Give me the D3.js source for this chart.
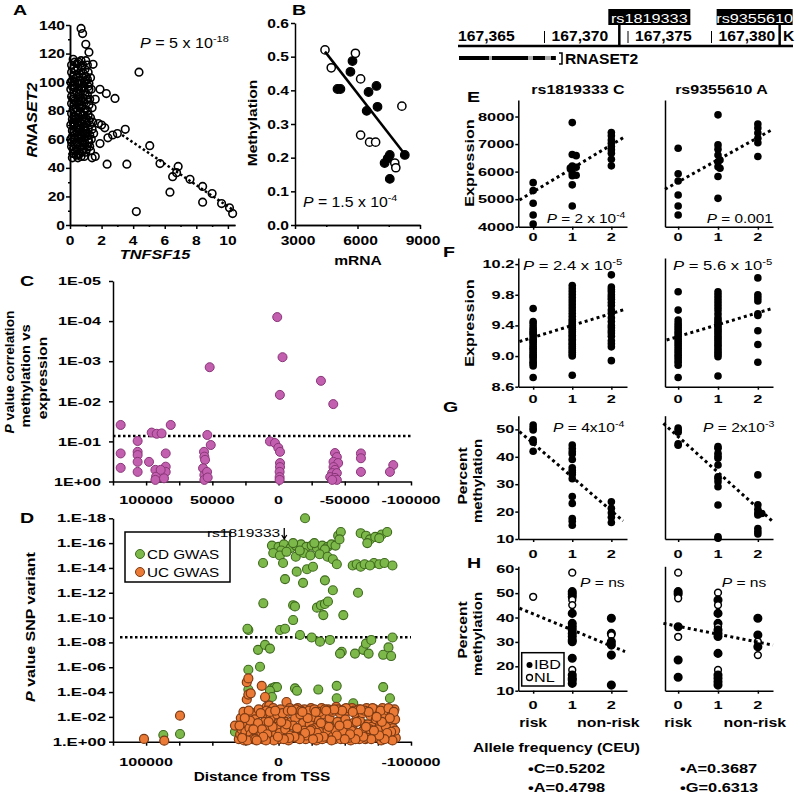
<!DOCTYPE html>
<html><head><meta charset="utf-8">
<script src="https://cdn.jsdelivr.net/npm/d3@7"></script>
<style>body{margin:0;background:#fff}</style>
</head><body>
<script>
// ================= DATA =================
// Panel A: [TNFSF15, RNASET2]
const aPoints = [[0.1,112],[0.2,104],[0.15,97],[0.1,90],[0.25,84],[0.1,78],[0.2,72],[0.15,66],[0.3,60],[0.1,55],[0.2,50],[0.35,108],[0.3,100],[0.4,93],[0.3,87],[0.45,80],[0.35,74],[0.4,68],[0.3,63],[0.45,57],[0.35,52],[0.5,47],
[0.55,114],[0.6,106],[0.5,99],[0.6,92],[0.55,86],[0.65,79],[0.5,73],[0.6,67],[0.55,61],[0.65,55],[0.5,49],
[0.75,111],[0.8,103],[0.7,96],[0.8,89],[0.75,83],[0.85,77],[0.7,71],[0.8,65],[0.75,59],[0.85,53],[0.7,48],
[0.95,109],[1.0,101],[0.9,94],[1.05,88],[0.95,81],[1.0,75],[0.9,69],[1.05,62],[0.95,57],[1.0,51],
[1.15,107],[1.2,99],[1.1,91],[1.2,84],[1.15,77],[1.25,70],[1.1,64],[1.2,58],[1.3,52],
[0.2,116],[0.45,113],[0.7,115],[0.15,101],[0.25,93],[0.4,86],[0.2,81],[0.5,77],[0.25,69],[0.15,62],[0.4,58],[0.2,53],[0.6,50],[0.9,48],[1.1,55],[1.35,60],[1.3,75],[1.4,82],[1.35,95],[1.3,103],[1.1,112],[0.65,101],[0.85,97],[0.6,84],[0.9,86],[0.7,63],[1.05,71],[0.45,65],[0.3,71],[0.1,85],[0.1,107],[0.55,95],[0.8,58],[1.0,66],[0.35,79],[0.65,72],[1.2,95],[1.25,88],[0.85,106],[0.3,114],[1.4,67],[1.45,72],[1.6,88],[1.5,64],[0.4,49],[0.15,47],
[0.05,95],[0.05,70],[0.05,60],[0.05,100],[0.25,110],[0.5,110],[0.8,112],[1.0,115],[0.3,96],[0.5,89],[0.7,87],[0.95,91],[1.15,97],[0.2,88],[0.4,82],[0.65,82],[0.9,79],[1.1,80],[0.3,76],[0.55,70],[0.75,74],[0.95,73],[1.2,73],[0.15,74],[0.45,72],[0.6,64],[0.85,68],[1.15,67],[0.25,65],[0.5,62],[0.75,61],[0.95,64],[1.25,63],[0.1,58],[0.35,56],[0.6,58],[0.85,56],[1.15,60],[0.25,50],[0.45,53],[0.75,51],[1.05,53],[1.25,55],[0.55,104],[0.75,99],[1.0,104],[0.4,103],[0.2,98],[0.9,100],[1.1,102],
[0.7,137.6],[0.8,134],[1.0,126.5],[1.2,121],[1.46,112.5],[4.37,107],[1.9,95],[2.3,92],[2.85,88.6],[1.8,71],[2.0,70],[2.2,68],[3.5,67],[3.0,64],[2.7,63],[2.4,61],[1.9,57],[5.05,55.5],[2.35,42.6],[3.6,42.6],[5.7,43],[6.85,41],[6.75,36.6],[6.5,33.8],[7.6,32],[6.33,23],[8.4,27],[8.4,16],[4.2,9.4],[9.0,22],[9.6,15],[10.3,8],[10.1,12],[1.6,48],[1.4,47]];
const aFit = [[3.3,63],[10.4,10]];
const aYTicks = [0,20,40,60,80,100,120,140];
const aYMinor = [10,30,50,70,90,110,130];
const aXTicks = [0,2,4,6,8,10];
const aXMinor = [1,3,5,7,9];

// Panel B: [mRNA, methylation]
const bOpen = [[4440,0.52],[4740,0.467],[5900,0.51],[6150,0.434],[8130,0.353],[6150,0.267],[6580,0.246],[6870,0.246],[7790,0.184],[7840,0.17]];
const bFilled = [[5760,0.487],[5660,0.455],[5040,0.404],[5180,0.404],[6530,0.395],[6910,0.413],[6440,0.339],[6960,0.351],[7550,0.208],[7450,0.198],[7300,0.184],[8270,0.208],[7550,0.137]];
const bFit = [[4440,0.515],[8270,0.21]];
const bYTicks = [0,0.1,0.2,0.3,0.4,0.5,0.6];
const bXTicks = [3000,6000,9000];
const bXMinor = [4500,7500];

// Panel C: [distance from TSS, -log10 P]
const cNegLog10P = [[1000,4.10],[-3000,3.10],[52000,2.85],[-32000,2.51],[-1000,2.16],[-41300,1.93],
[119200,1.41],[81400,1.41],[95800,1.22],[92000,1.19],[88300,1.20],[53800,1.16],[51200,0.91],[6500,1.0],[2700,0.96],[200,0.84],[-1100,0.74],[106400,1.01],[119200,0.70],[106400,0.74],[106400,0.66],[106400,0.49],[106400,0.24],[119200,0.34],[97800,0.49],[93000,0.29],[92500,0.12],[93000,0.04],[85200,0.70],[85200,0.37],[85200,0.24],[86500,0.08],[89000,0.29],[56300,0.74],[56000,0.62],[55500,0.54],[57000,0.33],[56000,0.16],[56000,0.04],[54000,0.24],[53500,0.10],
[-1100,0.46],[-1100,0.36],[-800,0.24],[-800,0.11],[-800,0.04],
[-42600,0.71],[-44000,0.61],[-41500,0.49],[-45000,0.46],[-41500,0.36],[-42600,0.29],[-40500,0.21],[-44000,0.21],[-39000,0.11],[-42600,0.09],[-44000,0.04],[-40500,0.04],
[-62200,0.70],[-62200,0.58],[-62200,0.24],[-86600,0.41],[-84100,0.24]];
const cThresholdP = 0.073;
const cYTicks = [1,1e-1,1e-2,1e-3,1e-4,1e-5];
const cXTicks = [125000,100000,75000,50000,25000,0,-25000,-50000,-75000,-100000];
const cXLabels = [100000,50000,0,-50000,-100000];

// Panel D: [distance from TSS, -log10 P]
const cdNegLog10P = [[-20000,18.0],
[5000,15.8],[0,15.7],[-4000,15.9],[-9000,15.6],[-13000,15.8],[-17000,15.9],[-21000,15.7],[-25000,15.8],[-29000,15.6],[-33000,15.8],[-37000,15.7],[-40000,15.9],[-43000,15.8],[-11000,16.0],[-27000,16.0],[-35000,15.5],[-2000,15.4],
[-45000,16.6],[-47000,16.9],[-46000,16.3],[-62000,16.8],[-66000,16.6],[-69000,16.3],[-73000,16.5],[-78000,16.7],[-82000,16.9],[-67000,16.0],[-76000,16.4],
[4000,15.2],[-1000,15.0],[-6000,15.3],[-13000,14.9],[-19000,15.2],[-24000,15.0],[-31000,15.1],[-37000,14.9],[-41000,14.7],[-16000,15.4],
[11700,14.4],[-3400,14.4],[-44000,14.3],[-56000,14.2],[-59000,14.3],[-62000,14.1],[-65000,14.3],[-72000,14.4],[-76000,14.3],[-80000,14.4],[-86000,14.2],[-69000,14.2],
[-13700,13.7],[-21500,13.9],[-26000,14.1],[-4900,13.1],[-18500,12.8],[-35000,13.0],[-41000,12.2],[-60000,12.0],
[11500,11.15],[-11000,11.0],[-12400,10.9],[-11000,9.8],[-29000,10.8],[-32000,11.0],[-35000,11.1],[-37300,11.3],[-33800,10.2],[-48900,10.2],
[22800,9.0],[23500,9.1],[-1100,9.0],[-4900,9.1],[-16200,8.6],[-25000,8.4],[-31300,8.06],[-38800,8.2],[-47700,7.25],[-46400,7.1],[-57700,7.1],[-64000,7.4],[-66000,7.9],[-68000,7.1],[-70000,8.2],[-79000,7.0],[-83000,7.6],[-85000,6.9],[-86000,8.4],
[15500,7.4],[10200,7.8],[6500,7.5],[14000,6.04],[22800,5.8],[22800,4.2],[5000,4.3],[2700,4.4],[1200,4.4],[6500,4.1],[5000,3.6],[-12400,4.3],[-13900,4.1],[-30000,4.2],[-43900,4.5],[-43900,3.5],[-56400,3.1],[-79000,4.4],[-84100,3.5],
[21600,2.0],[5000,1.5],[2700,1.3],[-86600,1.75],[-80000,1.9],[-72000,1.6],[-60000,1.8],[87000,0.54],[74400,0.62],[32900,0.8],[28000,0.5],[-5000,0.4],[-40000,1.2],[-50000,0.9],[-65000,1.4],[-85000,0.5]];
const ucNegLog10P = [[101600,0.22],[86300,0.08],[74400,2.1],[32900,1.3],[24000,4.8],[22800,5.1],[24000,3.4],[22800,3.8],[21000,3.9],[12700,4.5],[10200,3.6],[9000,2.8],[7000,2.9],[-6000,3.2],
[30000,0.2],[29000,0.6],[28000,1.0],[27000,0.4],[26000,0.1],[25000,0.8],[24000,1.5],[23000,0.3],[22000,1.1],[21000,0.6],[20000,2.3],[19500,0.2],
[18000,1.8],[17000,0.9],[16000,0.4],[15000,2.6],[14000,1.3],[13000,0.7],[12000,0.2],[11000,2.2],[10500,1.6],[10000,0.9],
[9000,2.5],[8000,1.2],[7000,0.5],[6000,1.9],[5000,0.3],[4000,2.7],[3000,1.0],[2000,0.6],[1000,2.2],[0,1.5],[-500,0.2],
[-1500,2.6],[-2500,0.9],[-3500,1.8],[-4500,0.4],[-5500,2.3],[-6500,1.2],[-7500,0.1],[-8500,2.7],[-9500,1.6],
[-10500,0.5],[-11500,2.4],[-12500,1.9],[-13500,0.3],[-14500,2.7],[-15500,1.0],[-16500,2.2],[-17500,0.6],[-18500,1.5],[-19500,2.6],
[-20500,0.2],[-21500,2.3],[-22500,0.8],[-23500,1.4],[-24500,2.7],[-25500,0.4],[-26500,2.0],[-27500,1.1],[-28500,0.1],[-29500,2.5],
[-30500,1.7],[-31500,0.5],[-32500,2.7],[-33500,0.9],[-34500,2.2],[-35500,1.3],[-36500,0.3],[-37500,2.6],[-38500,1.9],[-39500,0.7],
[-40500,2.4],[-41500,1.1],[-42500,0.2],[-43500,2.8],[-44500,1.6],[-45500,0.6],[-46500,2.3],[-47500,1.0],[-48500,0.3],[-49500,2.6],
[-50500,1.8],[-51500,0.5],[-52500,2.5],[-53500,1.2],[-54500,0.1],[-55500,2.7],[-56500,1.5],[-57500,0.8],[-58500,2.2],[-59500,0.4],
[-60500,2.6],[-61500,1.7],[-62500,0.6],[-63500,2.3],[-64500,1.0],[-65500,0.2],[-66500,2.7],[-67500,1.4],[-68500,0.5],[-69500,2.1],
[-70500,1.2],[-71500,0.3],[-72500,2.6],[-73500,1.8],[-74500,0.7],[-75500,2.4],[-76500,1.3],[-77500,0.1],[-78500,2.7],[-79500,0.9],
[-80500,2.0],[-81500,0.4],[-82500,2.5],[-83500,1.5],[-84500,0.2],[-85500,2.3],[-86500,1.1],[-87000,0.6],[-87500,2.6],[-88000,1.8],[-88500,0.3],[-88000,0.9],
[28500,1.9],[26500,2.4],[23500,0.1],[21500,1.7],[17500,0.2],[15500,1.5],[12500,1.0],[8500,0.6],[6500,2.4],[3500,0.1],[1500,1.2],[-1000,0.7],[-3000,2.3],[-5000,1.0],[-7000,2.5],[-9000,0.5],[-11000,1.3],[-13000,2.6],[-15000,0.3],[-17000,2.5],[-19000,0.9],[-21000,0.5],[-23000,2.5],[-25000,1.0],[-27000,2.6],[-29000,0.7],[-31000,2.4],[-33000,0.2],[-35000,2.6],[-37000,0.9],[-39000,2.5],[-41000,0.4],[-43000,0.9],[-45000,2.6],[-47000,0.2],[-49000,0.8],[-51000,2.7],[-53000,0.3],[-55000,0.9],[-57000,2.5],[-59000,1.6],[-61000,0.2],[-63000,0.8],[-65000,2.5],[-67000,0.3],[-69000,1.0],[-71000,2.7],[-73000,0.4],[-75000,1.0],[-77000,2.5],[-79000,0.3],[-81000,1.2],[-83000,2.7],[-85000,0.8],[-87000,2.4],[-86000,0.1],[-84000,1.9],[-82000,0.7],[-80000,0.2],[-78000,1.6],[-76000,0.5],[-74000,2.0],[-72000,0.9],[-70000,0.2],[-68000,2.4],[-66000,1.2],[-64000,0.4],[-62000,2.6],[-60000,0.7],[-58000,0.2],[-56000,2.4],[-54000,0.6],[-52000,1.4],[-50000,0.2],[-48000,2.5],[-46000,1.3],[-44000,0.5],[-42000,2.6],[-40000,0.1],[-38000,1.2],[-36000,2.5],[-34000,0.4],[-32000,1.5],[-30000,0.3],[-28000,2.4],[-26000,0.2],[-24000,0.9],[-22000,1.9],[-20000,0.7],[-18000,2.4],[-16000,0.2],[-14000,1.1],[-12000,0.4],[-10000,2.5],[-8000,0.3],[-6000,1.4],[-4000,0.2],[-2000,1.6],[500,0.4],[2500,2.5],[4500,1.2],[7500,1.6],[9500,0.1],[11500,0.4],[13500,2.3],[16500,0.1],[19000,1.0],[22500,2.5],[25500,1.9],[27500,0.3],[29500,1.3]];
const dThresholdP = 3.9e-9;
const dYTicks = [1,1e-2,1e-4,1e-6,1e-8,1e-10,1e-12,1e-14,1e-16,1e-18];
const dXLabels = [100000,0,-100000];
const dLegend = ["CD GWAS","UC GWAS"];
const dAnnot = {label:"rs1819333", distance:-4300};

// Gene track
const trackLabels = [167365,167370,167375,167380];
const snps = [{id:"rs1819333", pos:167374.6, boxDx:-11, boxW:82},{id:"rs9355610", pos:167384.2, boxDx:-63, boxW:76}];
const geneName = "RNASET2";
const geneSpan = [167365, 167370.8];

// Panels E-H: genotype (0,1,2) vs value
const columns = ["rs1819333 C","rs9355610 A"];
const eLeft = [[0,5600],[0,5310],[0,4850],[0,4425],[0,4100],[1,7780],[1,6620],[1.1,6580],[1,6200],[1.1,6160],[0.95,6130],[1,5950],[1.1,5870],[1,5850],[1,5520],[1,4750],[2,7420],[2,7300],[2,7150],[2,7030],[2,6910],[2,6790],[2,6670],[2,6450],[2,6210]];
const eRight = [[0,6850],[0,5920],[0,5660],[0,5150],[0,4750],[0,4425],[1,8060],[1,6970],[1,6815],[1,6600],[1.05,6420],[1,6360],[1,6180],[1.05,6120],[1,5820],[1,5030],[2,7730],[2,7580],[2,7400],[2,7210],[2,7050],[2,6550]];
const eLeftFit = [[-0.35,4970],[2.35,7270]];
const eRightFit = [[-0.33,5360],[2.38,7540]];
const fLeft = [[0,9.62],[0,9.45],[0,9.42],[0,9.38],[0,9.35],[0,9.32],[0,9.3],[0,9.28],[0,9.25],[0,9.22],[0,9.2],[0,9.18],[0,9.15],[0,9.12],[0,9.1],[0,9.08],[0,9.05],[0,9.02],[0,9.0],[0,8.98],[0,8.95],[0,8.92],[0,8.9],[0,8.87],[0,8.72],
[1,9.92],[1,9.88],[1,9.84],[1,9.8],[1,9.76],[1,9.72],[1,9.68],[1,9.64],[1,9.6],[1,9.56],[1,9.52],[1,9.48],[1,9.45],[1,9.42],[1,9.4],[1,9.37],[1,9.35],[1,9.32],[1,9.3],[1,9.27],[1,9.25],[1,9.22],[1,9.2],[1,9.17],[1,9.15],[1,9.12],[1,9.1],[1,9.07],[1,9.05],[1,9.02],[1,9.0],[1,8.75],
[2,10.06],[2,9.9],[2,9.87],[2,9.84],[2,9.8],[2,9.77],[2,9.74],[2,9.7],[2,9.66],[2,9.6],[2,9.56],[2,9.5],[2,9.45],[2,9.4],[2,9.37],[2,9.33],[2,9.3],[2,9.26],[2,9.2],[2,9.16],[2,9.12],[2,8.94]];
const fRight = [[0,9.84],[0,9.6],[0,9.47],[0,9.43],[0,9.4],[0,9.37],[0,9.34],[0,9.31],[0,9.28],[0,9.25],[0,9.22],[0,9.19],[0,9.16],[0,9.13],[0,9.1],[0,9.07],[0,9.04],[0,9.01],[0,8.98],[0,8.95],[0,8.92],[0,8.88],[0,8.72],
[1,9.84],[1,9.8],[1,9.76],[1,9.72],[1,9.68],[1,9.64],[1,9.6],[1,9.55],[1,9.5],[1,9.47],[1,9.44],[1,9.41],[1,9.38],[1,9.35],[1,9.32],[1,9.29],[1,9.26],[1,9.23],[1,9.2],[1,9.17],[1,9.14],[1,9.11],[1,9.08],[1,9.05],[1,9.02],[1,8.99],[1,8.74],
[2,10.02],[2,9.8],[2,9.76],[2,9.72],[2,9.55],[2,9.53],[2,9.33],[2,9.15],[2,8.92]];
const fLeftFit = [[-0.35,9.19],[2.35,9.61]];
const fRightFit = [[-0.29,9.21],[2.35,9.62]];
const gLeft = [[0,51.6],[0,50.5],[0,49.8],[0,46.2],[0,45.3],[0,42],[1,44.3],[1,43],[1,41.8],[1,41],[1,39],[1,36],[1,35],[1,34.4],[1,33.5],[1,32],[1,25.5],[1,23],[1,17.5],[1,16.5],[1,15],[2,23.6],[2,21.2],[2,19.6],[2,17.9],[2,16.0]];
const gRight = [[0,50.5],[0,49.8],[0,49],[0,44.7],[0,44.2],[1,43.7],[1,43.1],[1,41.3],[1,40.3],[1,39.5],[1,37],[1,32.7],[1,32.1],[1,30.9],[1,29.1],[1,22.4],[1,10.8],[1,10.3],[2,33.4],[2,22.5],[2,20.8],[2,19.5],[2.1,19.3],[2,18.8],[2,13.8],[2,12.7],[2,11.8]];
const gLeftFit = [[-0.35,49.2],[2.3,16.6]];
const gRightFit = [[-0.37,52.2],[2.38,16.3]];
// H: [genotype, value, isIBD]
const hLeft = [[0,48.5,0],[1,58.4,0],[1,50.6,1],[1,49.6,1],[1,48.5,1],[1,47.2,0],[1,45.1,0],[1,41.7,1],[1,37.6,1],[1,36.2,1],[1,34.9,1],[1,33.5,1],[1,32.2,1],[1,30.8,1],[1,30.1,1],[1,23.3,1],[1,18.5,0],[1,16.4,1],[1,15.1,1],[1,14.4,1],[1,13.0,1],[2,39.7,1],[2,33.5,1],[2,32.8,0],[2,30.1,1],[2,28.7,1],[2,24.6,1],[2,12.3,1]];
const hRight = [[0,58.4,0],[0,50.6,1],[0,49.6,1],[0,47.9,0],[0,36.2,1],[0,32.1,0],[0,22.6,1],[0,15.5,1],[1,50.2,0],[1,47.2,1],[1,45.1,0],[1,41.7,1],[1,37.6,1],[1,36.2,0],[1,34.9,1],[1,33.5,1],[1,32.2,1],[1,25.3,1],[1,18.5,0],[1,16.4,1],[1,15.1,1],[1,13.7,1],[1,12.3,1],[2,39.7,1],[2,32.8,1],[2,30.1,0],[2,28.0,1],[2,24.6,0]];
const hLeftFit = [[-0.35,43.8],[2.35,26.0]];
const hRightFit = [[-0.37,37.6],[2.38,28.7]];
const eYTicks = [4000,5000,6000,7000,8000];
const fYTicks = [8.6,9.0,9.4,9.8,10.2];
const gYTicks = [10,20,30,40,50];
const hYTicks = [10,20,30,40,50,60];
const genoTicks = [0,1,2];
const pTexts = {E:[["P"," = 2 x 10","-4"],["P"," = 0.001",""]], F:[["P"," = 2.4 x 10","-5"],["P"," = 5.6 x 10","-5"]], G:[["P"," = 4x10","-4"],["P"," = 2x10","-3"]], H:[["P"," = ns",""],["P"," = ns",""]]};
const alleleFreq = [["•C=0.5202","•A=0.4798"],["•A=0.3687","•G=0.6313"]];

// ================= DRAWING =================
const svg = d3.select('body').append('svg').attr('width',800).attr('height',799)
  .attr('font-family','Arial, "Liberation Sans", Helvetica, sans-serif');
svg.append('rect').attr('width',800).attr('height',799).attr('fill','#fff');

function txt(x,y,parts,o={}){
  const size=o.size||12;
  const t=svg.append('text').attr('transform',`translate(${x},${y}) rotate(${o.rot||0}) scale(${o.sx||1},1)`)
    .attr('text-anchor',o.anchor||'start').attr('font-size',size)
    .attr('font-weight',o.w||'bold').attr('fill',o.fill||'#000');
  if(typeof parts==='string') parts=[{t:parts}];
  parts.forEach(p=>{
    const s=t.append('tspan').text(p.t);
    if(p.i) s.attr('font-style','italic');
    if(p.sup) s.attr('font-size',size*0.68).attr('dy',-size*0.42);
  });
  return t;
}
function drawAxis(axis,tx,ty,sw=1.5){
  const g=svg.append('g').attr('transform',`translate(${tx},${ty})`).call(axis.tickFormat(()=>'').tickSizeOuter(0));
  g.selectAll('text').remove();
  g.select('.domain').attr('stroke','#000').attr('stroke-width',sw);
  g.selectAll('.tick line').attr('stroke','#000').attr('stroke-width',sw);
  return g;
}
function fitLine(x,y,fit,o={}){
  svg.append('line').attr('x1',x(fit[0][0])).attr('y1',y(fit[0][1])).attr('x2',x(fit[1][0])).attr('y2',y(fit[1][1]))
    .attr('stroke','#000').attr('stroke-width',o.sw||3).attr('stroke-dasharray',o.dash||'3,3.2');
}
function pText(x,y,p,o={}){
  return txt(x,y,[{t:p[0],i:1},{t:p[1]},{t:p[2],sup:1}],{w:'normal',size:o.size||13,sx:o.sx||1.2});
}

// ---------- Panel A ----------
const xA=d3.scaleLinear([0,10.45],[70,235]);
const yA=d3.scaleLinear([0,140],[225,25]);
drawAxis(d3.axisLeft(yA).tickValues(aYTicks).tickSize(4),70,0);
drawAxis(d3.axisLeft(yA).tickValues(aYMinor).tickSize(2),70,0);
drawAxis(d3.axisBottom(xA).tickValues(aXTicks).tickSize(4),0,225);
drawAxis(d3.axisBottom(xA).tickValues(aXMinor).tickSize(2),0,225);
aYTicks.forEach(v=>txt(65,yA(v)+4.6,String(v),{anchor:'end',size:13,sx:1.2}));
aXTicks.forEach(v=>txt(xA(v),245,String(v),{anchor:'middle',size:13,sx:1.2}));
svg.append('g').selectAll('circle').data(aPoints).join('circle')
  .attr('cx',d=>xA(d[0])).attr('cy',d=>yA(d[1])).attr('r',3.8)
  .attr('fill','none').attr('stroke','#000').attr('stroke-width',1.6);
fitLine(xA,yA,aFit,{sw:2.5,dash:'2.5,2.5'});
txt(13,15,'A',{size:14,sx:1.4});
txt(140,48,[{t:'P',i:1},{t:' = 5 x 10'},{t:'-18',sup:1}],{w:'normal',size:14,sx:1.15});
txt(155,259,[{t:'TNFSF15',i:1}],{anchor:'middle',size:13,sx:1.25});
txt(37,120,[{t:'RNASET2',i:1}],{anchor:'middle',size:14,sx:1.15,rot:-90});

// ---------- Panel B ----------
const xB=d3.scaleLinear([3000,9000],[295,420]);
const yB=d3.scaleLinear([0,0.6],[225,23]);
drawAxis(d3.axisLeft(yB).tickValues(bYTicks).tickSize(4),295,0);
drawAxis(d3.axisBottom(xB).tickValues(bXTicks).tickSize(4),0,225);
drawAxis(d3.axisBottom(xB).tickValues(bXMinor).tickSize(2),0,225);
bYTicks.forEach(v=>txt(289,yB(v)+4.6,v.toFixed(1),{anchor:'end',size:13,sx:1.2}));
bXTicks.forEach(v=>txt(xB(v)+3,245,String(v),{anchor:'middle',size:13,sx:1.2}));
svg.append('g').selectAll('circle').data(bFilled).join('circle')
  .attr('cx',d=>xB(d[0])).attr('cy',d=>yB(d[1])).attr('r',4.3).attr('fill','#000').attr('stroke','#000').attr('stroke-width',1.2);
svg.append('g').selectAll('circle').data(bOpen).join('circle')
  .attr('cx',d=>xB(d[0])).attr('cy',d=>yB(d[1])).attr('r',4.1).attr('fill','#fff').attr('stroke','#000').attr('stroke-width',1.5);
svg.append('line').attr('x1',xB(bFit[0][0])).attr('y1',yB(bFit[0][1])).attr('x2',xB(bFit[1][0])).attr('y2',yB(bFit[1][1]))
  .attr('stroke','#000').attr('stroke-width',2.5);
txt(292,15,'B',{size:14,sx:1.4});
txt(303,207,[{t:'P',i:1},{t:' = 1.5 x 10'},{t:'-4',sup:1}],{w:'normal',size:14,sx:1.13});
txt(358,265,'mRNA',{anchor:'middle',size:13,sx:1.2});
txt(257,123,'Methylation',{anchor:'middle',size:13,sx:1.2,rot:-90});

// ---------- Panel C ----------
const xC=d3.scaleLinear([125000,-100000],[113,411]);
const yC=d3.scaleLog([1,1e-5],[481.5,281]);
drawAxis(d3.axisLeft(yC).tickValues(cYTicks).tickSize(4),113,0);
drawAxis(d3.axisBottom(xC).tickValues(cXTicks).tickSize(4),0,481.5);
const fmtC=v=>{const e=Math.round(Math.log10(v));return '1E'+(e<0?'-':'+')+String(Math.abs(e)).padStart(2,'0');};
cYTicks.forEach(v=>txt(101,yC(v)+4.2,fmtC(v),{anchor:'end',size:11.5,sx:1.4}));
cXLabels.forEach(v=>txt(xC(v),504,String(v),{anchor:'middle',size:11.5,sx:1.4}));
svg.append('line').attr('x1',113).attr('x2',411).attr('y1',yC(cThresholdP)).attr('y2',yC(cThresholdP))
  .attr('stroke','#000').attr('stroke-width',2.5).attr('stroke-dasharray','2.5,2.5');
svg.append('g').selectAll('circle').data(cNegLog10P).join('circle')
  .attr('cx',d=>xC(d[0])).attr('cy',d=>yC(Math.pow(10,-d[1]))).attr('r',4.5)
  .attr('fill','#c25fae').attr('stroke','#8a3579').attr('stroke-width',1);
txt(20,286,'C',{size:14,sx:1.4});
txt(14,372,[{t:'P',i:1},{t:' value  correlation'}],{anchor:'middle',size:12.5,sx:1.1,rot:-90});
txt(30,376,'methylation vs',{anchor:'middle',size:12.5,sx:1.18,rot:-90});
txt(47,378,'expression',{anchor:'middle',size:12.5,sx:1.25,rot:-90});

// ---------- Panel D ----------
const xD=d3.scaleLinear([125000,-100000],[113,411]);
const yD=d3.scaleLog([1,1e-18],[741.7,518.3]);
drawAxis(d3.axisLeft(yD).tickValues(dYTicks).tickSize(4),113,0);
drawAxis(d3.axisBottom(xD).tickValues(cXTicks).tickSize(4),0,741.7);
const fmtD=v=>{const e=Math.round(Math.log10(v));return '1.E'+(e<0?'-':'+')+String(Math.abs(e)).padStart(2,'0');};
dYTicks.forEach(v=>txt(106,yD(v)+4,fmtD(v),{anchor:'end',size:11.5,sx:1.45}));
dXLabels.forEach(v=>txt(xD(v),766,String(v),{anchor:'middle',size:11.5,sx:1.4}));
svg.append('line').attr('x1',120).attr('x2',411).attr('y1',yD(dThresholdP)).attr('y2',yD(dThresholdP))
  .attr('stroke','#000').attr('stroke-width',2.5).attr('stroke-dasharray','2.5,2.5');
svg.append('g').selectAll('circle').data(cdNegLog10P).join('circle')
  .attr('cx',d=>xD(d[0])).attr('cy',d=>yD(Math.pow(10,-d[1]))).attr('r',4.5)
  .attr('fill','#7db84a').attr('stroke','#3f6a1e').attr('stroke-width',1.1);
svg.append('g').selectAll('circle').data(ucNegLog10P).join('circle')
  .attr('cx',d=>xD(d[0])).attr('cy',d=>yD(Math.pow(10,-d[1]))).attr('r',4.5)
  .attr('fill','#ea7a35').attr('stroke','#7c3a14').attr('stroke-width',1.2);
// legend
svg.append('rect').attr('x',125).attr('y',532).attr('width',105).attr('height',50).attr('fill','#fff').attr('stroke','#000').attr('stroke-width',1.5);
[['#7db84a','#3f6a1e'],['#ea7a35','#7c3a14']].forEach((c,i)=>{
  svg.append('circle').attr('cx',140).attr('cy',554+i*18).attr('r',4.5).attr('fill',c[0]).attr('stroke',c[1]);
  txt(147,559+i*18,dLegend[i],{w:'normal',size:13.5,sx:1.13});
});
// annotation
txt(xD(dAnnot.distance)-4,537,dAnnot.label,{anchor:'end',w:'normal',size:11.5,sx:1.35});
svg.append('path').attr('d',`M${xD(dAnnot.distance)},528 V538 M${xD(dAnnot.distance)-2.5},535 L${xD(dAnnot.distance)},539 L${xD(dAnnot.distance)+2.5},535`)
  .attr('fill','none').attr('stroke','#000').attr('stroke-width',1.3);
txt(20,523,'D',{size:14,sx:1.4});
txt(35,627,[{t:'P',i:1},{t:' value SNP variant'}],{anchor:'middle',size:12.5,sx:1.28,rot:-90});
txt(262,781,'Distance from TSS',{anchor:'middle',size:12.5,sx:1.23});

// ---------- Gene track ----------
const gx=d3.scaleLinear([167365,167385],[459,793]);
svg.append('line').attr('x1',458).attr('x2',793).attr('y1',46).attr('y2',46).attr('stroke','#000').attr('stroke-width',2.5);
trackLabels.forEach((v,i)=>{
  const x=gx(v);
  if(i>0) svg.append('line').attr('x1',x+2).attr('x2',x+2).attr('y1',31).attr('y2',43).attr('stroke','#000').attr('stroke-width',1);
  txt(i===0?458:x+9,41,d3.format(',')(v),{size:14,sx:1.12});
});
snps.forEach(s=>{
  const x=gx(s.pos);
  svg.append('rect').attr('x',x+s.boxDx).attr('y',9).attr('width',s.boxW).attr('height',16).attr('fill','#000');
  svg.append('line').attr('x1',x).attr('x2',x).attr('y1',24).attr('y2',46).attr('stroke','#000').attr('stroke-width',2.5);
  txt(x+s.boxDx+s.boxW/2,22.5,s.id,{anchor:'middle',w:'normal',size:13,sx:1.25,fill:'#fff'});
});
txt(783,41,'K',{size:14,sx:1.12});
svg.append('line').attr('x1',gx(geneSpan[0])).attr('x2',gx(geneSpan[1])).attr('y1',58).attr('y2',58).attr('stroke','#000').attr('stroke-width',4);
[[489,492],[528,533],[545,551]].forEach(s=>svg.append('line').attr('x1',s[0]).attr('x2',s[1]).attr('y1',58).attr('y2',58).attr('stroke','#aaa').attr('stroke-width',4));
svg.append('path').attr('d','M559,53 H562 V64 H559').attr('fill','none').attr('stroke','#000').attr('stroke-width',1.5);
txt(565,63.5,geneName,{size:14,sx:1.12});

// ---------- Panels E-H ----------
const xL=d3.scaleLinear([-0.38,2.4],[518.3,627]);
const xR=d3.scaleLinear([-0.33,2.38],[665,773]);
const rows=[
 {key:'E',y:d3.scaleLinear([4000,8600],[226.7,100]),ticks:eYTicks,fmt:v=>String(v),data:[eLeft,eRight],fits:[eLeftFit,eRightFit],lab:241,pY:223,pX:[546.7,706.7],psx:1.18},
 {key:'F',y:d3.scaleLinear([8.6,10.28],[386.7,258]),ticks:fYTicks,fmt:v=>v.toFixed(1),data:[fLeft,fRight],fits:[fLeftFit,fRightFit],lab:402.5,pY:270,pX:[523,673],psx:1.28},
 {key:'G',y:d3.scaleLinear([10,55],[539,415.7]),ticks:gYTicks,fmt:v=>String(v),data:[gLeft,gRight],fits:[gLeftFit,gRightFit],lab:557.5,pY:432,pX:[553,703],psx:1.2},
 {key:'H',y:d3.scaleLinear([10,61],[690.7,566.3]),ticks:hYTicks,fmt:v=>String(v),data:[hLeft,hRight],fits:[hLeftFit,hRightFit],lab:709,pY:587,pX:[580,721.7],psx:1.2}
];
rows.forEach(r=>{
  const y0=r.y.range()[0];
  [xL,xR].forEach((x,ci)=>{
    const ax0=x.range()[0];
    if(ci===0){
      drawAxis(d3.axisLeft(r.y).tickValues(r.ticks).tickSize(3),ax0,0);
      r.ticks.forEach(v=>txt(ax0-4,r.y(v)+4,r.fmt(v),{anchor:'end',size:11.5,sx:1.42}));
    } else {
      drawAxis(d3.axisLeft(r.y).tickValues([]).tickSize(0),ax0,0);
    }
    drawAxis(d3.axisBottom(x).tickValues(genoTicks).tickSize(3),0,y0);
    genoTicks.forEach(v=>txt(x(v),r.lab,String(v),{anchor:'middle',size:11.5,sx:1.42}));
    const data=r.data[ci];
    if(r.key==='H'){
      svg.append('g').selectAll('circle').data(data).join('circle')
        .attr('cx',d=>x(d[0])).attr('cy',d=>r.y(d[1])).attr('r',d=>d[2]?3.8:3.4)
        .attr('fill',d=>d[2]?'#000':'#fff').attr('stroke','#000').attr('stroke-width',1.5);
    } else {
      svg.append('g').selectAll('circle').data(data).join('circle')
        .attr('cx',d=>x(d[0])).attr('cy',d=>r.y(d[1])).attr('r',3.8).attr('fill','#000');
    }
    fitLine(x,r.y,r.fits[ci],{sw:3,dash:'3,3.2'});
    pText(r.pX[ci],r.pY,pTexts[r.key][ci],{sx:r.psx});
  });
});
txt(467,102,'E',{size:14,sx:1.4});
txt(443,257,'F',{size:14,sx:1.4});
txt(443,412,'G',{size:14,sx:1.4});
txt(467,568,'H',{size:14,sx:1.4});
txt(578,94,columns[0],{anchor:'middle',size:13,sx:1.23});
txt(721.5,94,columns[1],{anchor:'middle',size:13,sx:1.23});
txt(474,163,'Expression',{anchor:'middle',size:12.5,sx:1.3,rot:-90});
txt(474,323,'Expression',{anchor:'middle',size:12.5,sx:1.3,rot:-90});
txt(467,476,'Percent',{anchor:'middle',size:12.5,sx:1.25,rot:-90});
txt(482,481,'methylation',{anchor:'middle',size:12.5,sx:1.2,rot:-90});
txt(467,630,'Percent',{anchor:'middle',size:12.5,sx:1.25,rot:-90});
txt(482,634,'methylation',{anchor:'middle',size:12.5,sx:1.2,rot:-90});
// H legend
svg.append('rect').attr('x',521.7).attr('y',652.7).attr('width',42.3).attr('height',33.3).attr('fill','#fff').attr('stroke','#000').attr('stroke-width',1.5);
svg.append('circle').attr('cx',529.5).attr('cy',665).attr('r',3).attr('fill','#000');
svg.append('circle').attr('cx',529.5).attr('cy',677.5).attr('r',3).attr('fill','#fff').attr('stroke','#000').attr('stroke-width',1.3);
txt(534,669.2,'IBD',{w:'normal',size:12,sx:1.35});
txt(534,682,'NL',{w:'normal',size:12,sx:1.35});
// risk labels
[[xL,0],[xR,1]].forEach(([x])=>{
  txt(x(0),727,'risk',{anchor:'middle',size:13,sx:1.2});
  txt(x(2)-3,727,'non-risk',{anchor:'middle',size:13,sx:1.22});
});
txt(473,752,'Allele frequency (CEU)',{size:12.6,sx:1.23});
txt(528,773,alleleFreq[0][0],{size:12.6,sx:1.3});
txt(528,792,alleleFreq[0][1],{size:12.6,sx:1.3});
txt(680,773,alleleFreq[1][0],{size:12.6,sx:1.3});
txt(680,792,alleleFreq[1][1],{size:12.6,sx:1.3});
</script>
</body></html>
